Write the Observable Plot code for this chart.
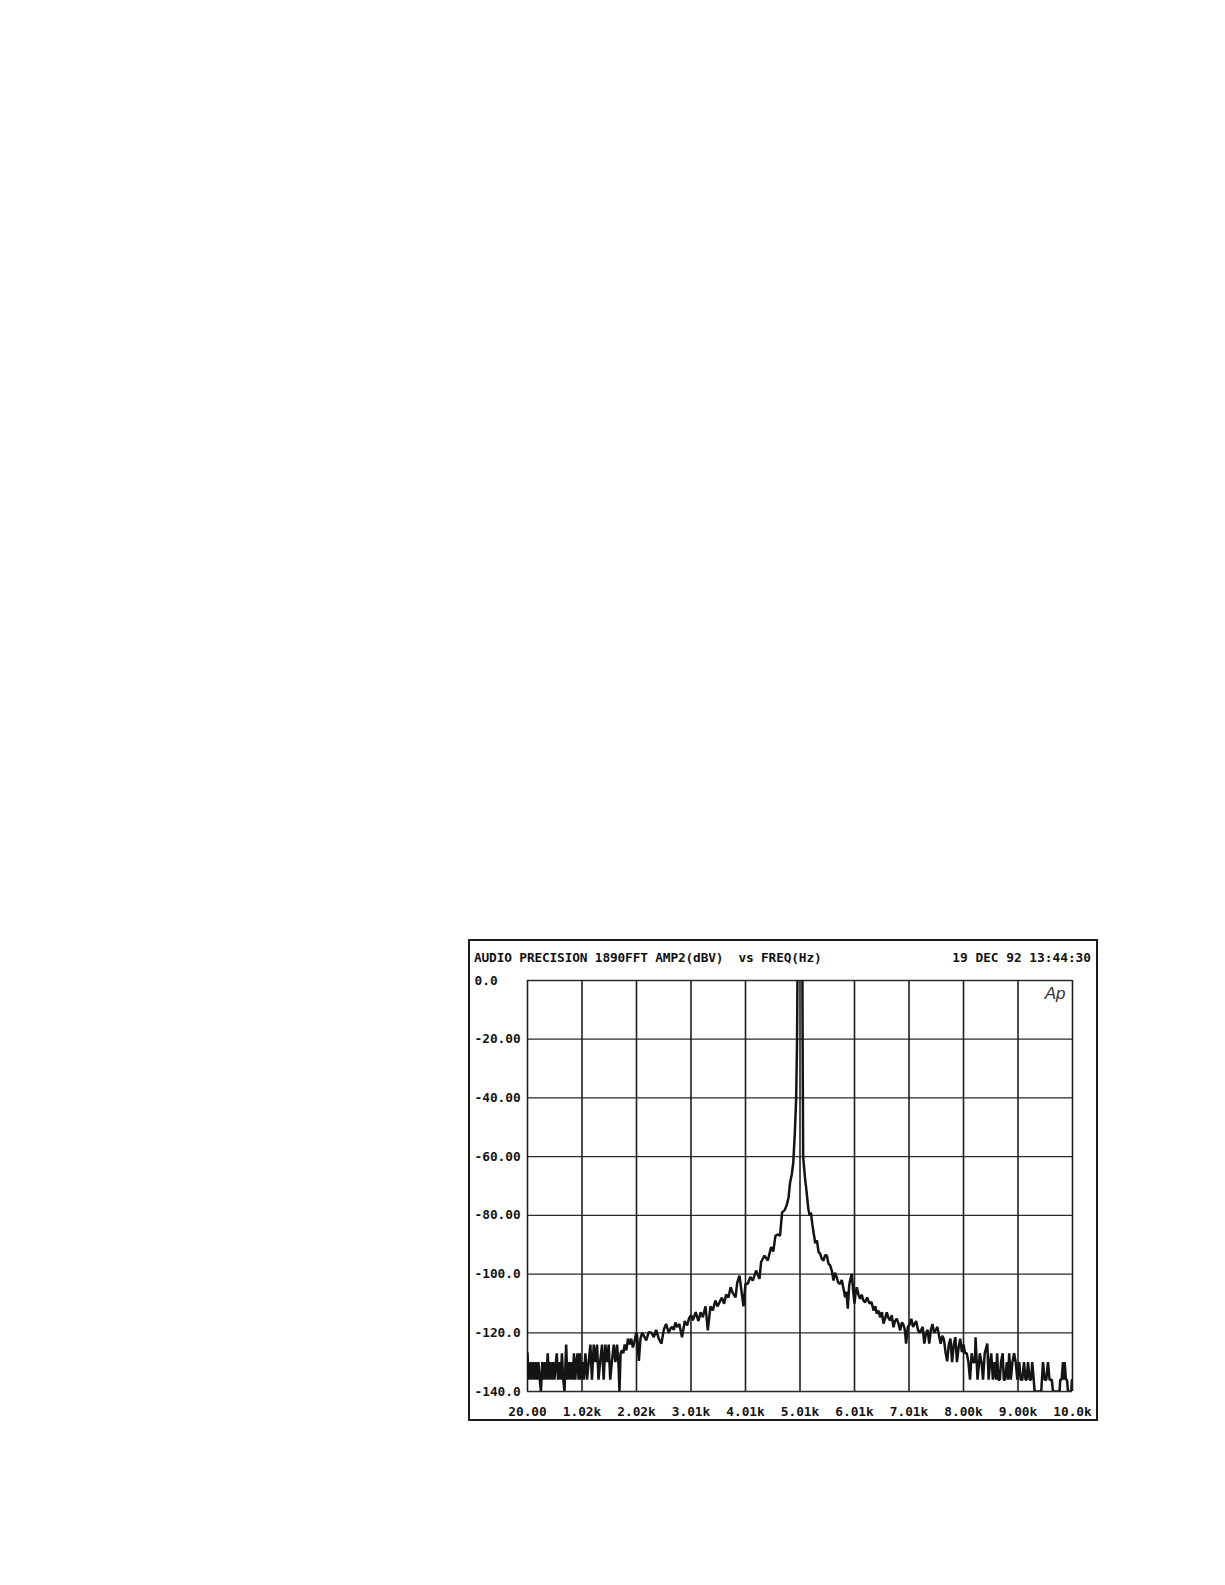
<!DOCTYPE html>
<html>
<head>
<meta charset="utf-8">
<script src="https://cdn.jsdelivr.net/npm/d3@7"></script>
<script src="https://cdn.jsdelivr.net/npm/@observablehq/plot@0.6"></script>
<style>
  html, body { margin: 0; padding: 0; background: #fff; }
  body { width: 1225px; height: 1585px; position: relative; overflow: hidden; }
  #box {
    position: absolute; left: 468px; top: 939px; width: 630px; height: 482px;
    border: 2px solid #1a1a1a; box-sizing: border-box;
  }
  .hdr {
    position: absolute; top: 10px; font-family: "DejaVu Sans Mono", monospace;
    font-weight: bold; font-size: 12.8px; line-height: 14px; color: #111; white-space: pre;
  }
  #title { left: 4px; letter-spacing: -0.15px; }
  #stamp { right: 5px; }
  #chart { position: absolute; left: 0; top: 0; }
</style>
</head>
<body>
<div id="box">
  <div class="hdr" id="title"></div>
  <div class="hdr" id="stamp"></div>
  <div id="chart"></div>
</div>
<script>
// ---- chart texts ----
const titleText = "AUDIO PRECISION 1890FFT AMP2(dBV)  vs FREQ(Hz)";
const stampText = "19 DEC 92 13:44:30";
const logoText = "Ap";

// ---- axis ticks ----
const xTickHz = [20, 1018, 2016, 3014, 4012, 5010, 6008, 7006, 8004, 9002, 10000];
const xTickLabels = ["20.00", "1.02k", "2.02k", "3.01k", "4.01k", "5.01k", "6.01k", "7.01k", "8.00k", "9.00k", "10.0k"];
const yTickDb = [0, -20, -40, -60, -80, -100, -120, -140];
const yTickLabels = ["0.0", "-20.00", "-40.00", "-60.00", "-80.00", "-100.0", "-120.0", "-140.0"];

// ---- trace: [frequency Hz, amplitude dBV] ----
const noiseLow = [
  [20,-127],[45,-136],[70,-130],[95,-136],[120,-130],[145,-136],[170,-130],[195,-136],[220,-130],[245,-136],
  [266,-140],[290,-130],[315,-136],[340,-130],[365,-136],[390,-127],[415,-136],[440,-130],[465,-136],[490,-130],
  [515,-136],[540,-130],[556,-127],[580,-136],[605,-130],[630,-136],[650,-127],[675,-136],[698,-140],[728,-124],
  [750,-136],[775,-130],[800,-136],[825,-130],[850,-136],[870,-127],[895,-136],[915,-130],[935,-127],[955,-136],
  [980,-127],[1000,-136],[1025,-130],[1050,-136],[1080,-127],[1110,-136],[1140,-130],[1172,-124],[1200,-136],
  [1233,-124],[1262,-130],[1294,-124],[1320,-136],[1350,-130],[1385,-124],[1415,-136],[1446,-124],[1475,-130],
  [1507,-124],[1535,-136],[1565,-130],[1599,-124],[1630,-130],[1660,-124],[1685,-130],[1704,-140],[1725,-127],
  [1750,-126],[1775,-127],[1800,-124],[1830,-126],[1860,-122],[1890,-124],[1920,-122],[1950,-125],[1980,-123],
  [2010,-120]
];
const riseLeft = [
  [2028,-121],[2059,-129.6],[2089,-122],[2120,-120],[2150,-121],[2193,-122.6],[2241,-119.8],[2290,-120],
  [2333,-121.5],[2375,-119],[2424,-122],[2473,-123.7],[2515,-119],[2558,-117],[2607,-120],[2640,-118.5],
  [2668,-118],[2700,-119],[2728,-116.5],[2760,-118],[2800,-117],[2850,-121.5],[2900,-116],[2942,-117.5],
  [2980,-115],[3016,-114],[3047,-115.8],[3100,-113],[3150,-116],[3190,-113],[3230,-114.7],[3280,-111],
  [3322,-119.2],[3370,-111],[3413,-112.4],[3460,-109],[3500,-111],[3536,-109.6],[3580,-108],[3620,-110.1],
  [3657,-107],[3700,-108],[3740,-104.5],[3780,-106.5],[3830,-107.9],[3860,-103],[3902,-100.5],[3940,-106],
  [3975,-111],[4012,-103.3],[4054,-103.3],[4100,-101],[4146,-102.2],[4206,-98.8],[4268,-101.6],[4298,-95.9],
  [4360,-93.7],[4420,-95.4],[4481,-90.8],[4520,-92.3],[4560,-87],[4600,-86.5],[4645,-86.9],[4682,-79],
  [4726,-78.3],[4765,-76.6],[4800,-74],[4827,-69],[4860,-66],[4887,-62],[4915,-52],[4940,-40],[4955,-22],
  [4964,2]
];
const peak = [[5010,30]];
const fallRight = [
  [5054,2],[5060,-30],[5068,-60],[5100,-67],[5131,-72],[5162,-77.7],[5185,-80],[5210,-79],[5235,-83],
  [5260,-86],[5290,-89.5],[5320,-88.5],[5350,-92.5],[5378,-93],[5410,-94.8],[5440,-95.4],[5470,-93.5],
  [5501,-93.7],[5532,-96.5],[5562,-97],[5592,-98.8],[5623,-102.2],[5650,-99.5],[5680,-101],[5712,-103],
  [5745,-103.3],[5775,-102],[5807,-105],[5836,-107.9],[5860,-106],[5885,-111.8],[5910,-104],[5930,-102],
  [5959,-99.9],[5985,-106],[6008,-110.1],[6030,-106],[6050,-104.5],[6080,-107],[6110,-108.4],[6140,-107],
  [6170,-109],[6202,-109.6],[6240,-108],[6280,-110],[6320,-109.5],[6356,-112.4],[6390,-111],[6416,-113.5],
  [6450,-112.5],[6477,-114.7],[6510,-113],[6539,-116.9],[6570,-115],[6599,-113],[6630,-115],[6660,-115.8],
  [6690,-114],[6722,-118.1],[6750,-116],[6782,-115.2],[6815,-117],[6843,-119.2],[6875,-116.5],[6900,-117],
  [6930,-119],[6953,-123.7],[6985,-118],[7026,-116.9],[7048,-115.2],[7080,-118],[7108,-117],[7137,-116],
  [7170,-119],[7197,-120],[7230,-119],[7257,-118],[7287,-123.7],[7317,-120],[7347,-119],[7377,-123.7],
  [7406,-119],[7436,-117],[7466,-120],[7500,-119],[7526,-118],[7556,-121],[7586,-123.7],[7615,-121],
  [7645,-122.2],[7675,-126.6],[7705,-129.7],[7735,-124],[7765,-122],[7795,-130],[7825,-124],[7855,-121.5],
  [7884,-130],[7915,-125],[7944,-122],[7974,-126.6]
];
const noiseHigh = [
  [8004,-124],[8034,-127],[8064,-127],[8094,-130],[8124,-136],[8153,-127],[8183,-130],[8213,-130],[8225,-121.5],
  [8261,-136],[8303,-127],[8333,-130],[8362,-136],[8392,-127],[8440,-123.7],[8464,-136],[8490,-130],[8512,-127],
  [8542,-136],[8572,-130],[8600,-136],[8620,-127],[8643,-136],[8670,-136],[8691,-130],[8721,-127],[8742,-136],
  [8763,-136],[8799,-130],[8820,-136],[8841,-127],[8871,-136],[8900,-130],[8930,-127],[8960,-130],[8990,-136],
  [9025,-130],[9050,-136],[9080,-136],[9112,-130],[9140,-136],[9160,-136],[9185,-130],[9215,-136],[9240,-136],
  [9263,-130],[9290,-136],[9306,-140],[9370,-140],[9428,-140],[9440,-136],[9460,-130],[9490,-136],[9520,-136],
  [9551,-130],[9580,-136],[9620,-136],[9643,-140],[9700,-140],[9763,-140],[9775,-136],[9800,-136],[9826,-130],
  [9840,-136],[9856,-130],[9880,-136],[9900,-136],[9917,-140],[9950,-140],[9977,-140],[9990,-136],[10000,-136]
];

const trace = [...noiseLow, ...riseLeft, ...peak, ...fallRight, ...noiseHigh]
  .map(([hz, db]) => ({hz, db}));

document.getElementById("title").textContent = titleText;
document.getElementById("stamp").textContent = stampText;

const mono = "DejaVu Sans Mono, monospace";
const ink = "#141414";

const chart = Plot.plot({
  width: 626,
  height: 478,
  marginLeft: 57,
  marginRight: 24,
  marginTop: 39,
  marginBottom: 28,
  style: {background: "transparent", overflow: "visible"},
  x: {type: "linear", domain: [20, 10000], axis: null},
  y: {type: "linear", domain: [-140, 0], axis: null},
  marks: [
    Plot.gridY(yTickDb, {stroke: "#2a2a2a", strokeOpacity: 1, strokeWidth: 1.3}),
    Plot.gridX(xTickHz, {stroke: "#1e1e1e", strokeOpacity: 1, strokeWidth: 1.6}),
    Plot.line(trace, {x: "hz", y: "db", stroke: ink, strokeWidth: 2.5, clip: true, strokeLinejoin: "miter"}),
    Plot.text(yTickDb, {
      y: d => d, text: (d, i) => yTickLabels[i], frameAnchor: "left", textAnchor: "start",
      lineAnchor: "middle", dx: -53, fontFamily: mono, fontWeight: "bold", fontSize: 12.8, fill: ink
    }),
    Plot.text(xTickHz, {
      x: d => d, text: (d, i) => xTickLabels[i], frameAnchor: "bottom", textAnchor: "middle",
      lineAnchor: "middle", dy: 20, fontFamily: mono, fontWeight: "bold", fontSize: 12.8, fill: ink
    }),
    Plot.text([logoText], {
      text: d => d, frameAnchor: "top-right", textAnchor: "end", lineAnchor: "middle",
      dx: -7, dy: 13, fontFamily: "Liberation Sans, sans-serif", fontStyle: "italic",
      fontSize: 17, fill: "#333"
    })
  ]
});
document.getElementById("chart").appendChild(chart);
</script>
</body>
</html>
